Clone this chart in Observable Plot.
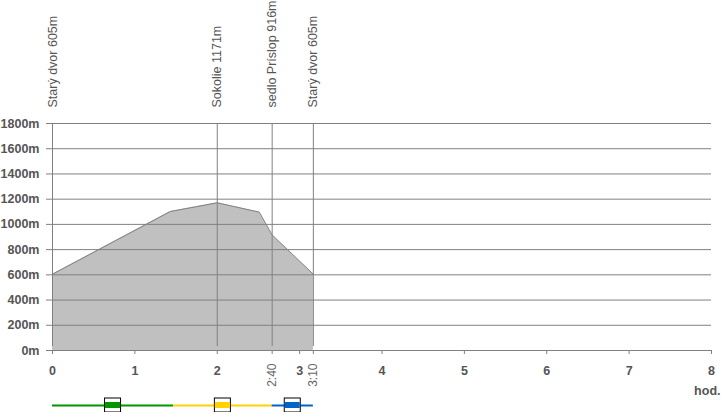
<!DOCTYPE html>
<html>
<head>
<meta charset="utf-8">
<script src="https://cdn.jsdelivr.net/npm/d3@7"></script>
<script src="https://cdn.jsdelivr.net/npm/@observablehq/plot@0.6"></script>
<style>
  html, body { margin: 0; padding: 0; background: #fff; }
  svg { display: block; }
</style>
</head>
<body>
<div id="chart"></div>
<script>
// Station labels and their times (hours)
const stationNames = ["Starý dvor 605m", "Sokolie 1171m", "sedlo Príslop 916m", "Starý dvor 605m"];
const stationTimes = [0, 2, 8 / 3, 19 / 6];

// Elevation profile (time in hours, elevation in m)
const profileTimes = [0, 1.43, 2.0, 2.51, 8 / 3, 19 / 6];
const profileElevations = [605, 1102, 1171, 1097, 916, 605];

// Axis ticks
const hourTicks = [0, 1, 2, 3, 4, 5, 6, 7, 8];
const extraTicks = [8 / 3, 19 / 6];
const extraTickLabels = ["2:40", "3:10"];
const elevationTicks = [0, 200, 400, 600, 800, 1000, 1200, 1400, 1600, 1800];

// Trail colour segments (hours)
const trackStarts = [0, 1.47, 8 / 3];
const trackEnds = [1.47, 8 / 3, 19 / 6];
const trackColors = ["#009600", "#ffd200", "#0064c8"];

const profile = profileTimes.map((t, i) => ({t, e: profileElevations[i]}));
const stations = stationTimes.map((t, i) => ({t, name: stationNames[i]}));
const extras = extraTicks.map((t, i) => ({t, label: extraTickLabels[i]}));
const track = trackStarts.map((s, i) => ({s, e: trackEnds[i], c: trackColors[i], m: (s + trackEnds[i]) / 2}));

const grid = "#808080";
const textCol = "#555555";

const chart = Plot.plot({
  width: 722,
  height: 412,
  marginLeft: 52,
  marginRight: 11,
  marginTop: 123,
  marginBottom: 62,
  style: {fontFamily: "'Liberation Sans', Arial, sans-serif", fontSize: "12px", background: "#fff"},
  x: {domain: [0, 8], axis: null},
  y: {domain: [0, 1800], axis: null},
  marks: [
    Plot.areaY(profile, {x: "t", y: "e", fill: "#c0c0c0"}),
    Plot.gridY(elevationTicks, {stroke: grid, strokeOpacity: 1}),
    Plot.lineY(profile, {x: "t", y: "e", stroke: grid, strokeWidth: 1}),
    Plot.ruleX(stations, {x: "t", y1: () => 0, y2: () => 1800, insetTop: -4, stroke: grid}),
    // y axis ticks and labels
    Plot.axisY({ticks: elevationTicks, tickSize: 6, stroke: grid, tickFormat: (d) => d + "m",
      fontWeight: "bold", fill: textCol, tickPadding: 7, label: null, fontSize: 12.5}),
    // x axis ticks
    Plot.axisX({ticks: hourTicks.concat(extraTicks), tickSize: 4, stroke: grid, tickFormat: () => "", label: null}),
    Plot.ruleY([0], {stroke: grid}),
    // hour labels
    Plot.text(hourTicks, {x: (d) => d, frameAnchor: "bottom", lineAnchor: "middle", dy: 20, text: (d) => String(d),
      fontWeight: "bold", fill: textCol, fontSize: 12.5}),
    // extra time labels (rotated)
    Plot.text(extras, {x: "t", frameAnchor: "bottom", lineAnchor: "middle", dy: 13, text: "label", rotate: -90,
      textAnchor: "end", fill: "#666", fontSize: 12}),
    Plot.text(["hod."], {frameAnchor: "bottom-right", lineAnchor: "middle", dx: 9, dy: 40, textAnchor: "end",
      fontWeight: "bold", fill: textCol, fontSize: 12.5}),
    // station labels (rotated, top)
    Plot.text(stations, {x: "t", frameAnchor: "top", lineAnchor: "middle", dy: -16, text: "name", rotate: -90,
      textAnchor: "start", fill: textCol, fontSize: 12.5}),
    // colored trail track
    Plot.ruleY(track, {x1: "s", x2: "e", y: () => 0, dy: 55, stroke: "c", strokeWidth: 2}),
    Plot.rect(track, {x1: "m", x2: "m", y1: () => 0, y2: () => 0, dy: 55,
      insetLeft: -8, insetRight: -8, insetTop: -7, insetBottom: -7, fill: "white", stroke: "black", strokeWidth: 1}),
    Plot.rect(track, {x1: "m", x2: "m", y1: () => 0, y2: () => 0, dy: 55,
      insetLeft: -7.5, insetRight: -7.5, insetTop: -3, insetBottom: -3, fill: "c"})
  ]
});
document.getElementById("chart").appendChild(chart);
</script>
</body>
</html>
